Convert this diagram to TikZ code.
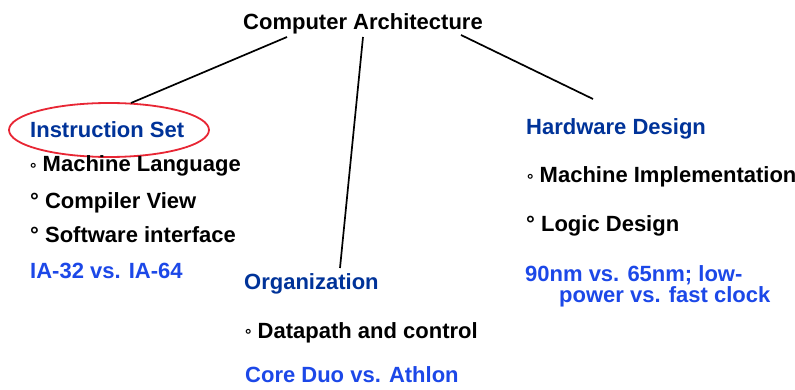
\documentclass[tikz,border=0pt]{standalone}
\usepackage{fontspec}
\setmainfont{Liberation Sans}
\usetikzlibrary{positioning}
\definecolor{ArchNavy}{RGB}{0,51,153}
\definecolor{ArchBlue}{RGB}{28,72,232}
\definecolor{ArchRed}{RGB}{232,38,52}

\tikzset{
  topic/.style={anchor=base west, inner sep=0pt, font=\fontsize{22}{21}\selectfont\bfseries},
  heading/.style={topic, text=ArchNavy},
  example/.style={topic, text=ArchBlue, align=left},
  item/.style={topic, text=black},
  branch/.style={draw=black, line width=1.7pt},
  ring/.style={draw=ArchRed, line width=1.8pt},
}
% the smaller, lower circle used before some of the items
\newcommand{\lowdeg}{{\fontsize{16}{16}\selectfont\raisebox{-2.2pt}{°}}}

\begin{document}
\begin{tikzpicture}[x=1pt,y=-1pt]
  \path[use as bounding box] (0,0) rectangle (795,390);
  \fill[white] (0,0) rectangle (795,390);

  \node[item] (title) at (243,30) {Computer Architecture};

  % left branch
  \node[heading] (inst) at (30,138) {Instruction Set};
  \draw[ring] (109,130) ellipse [x radius=100, y radius=27];
  \node[item] (lang) at (30,172) {\lowdeg\ Machine Language};
  \node[item] (comp) at (30,208) {° Compiler View};
  \node[item] (soft) at (30,243) {° Software interface};
  \node[example] (ia) at (30,278) {IA-32 vs. IA-64};

  % middle branch
  \node[heading] (org) at (244,289) {Organization};
  \node[item] (path) at (245,338) {\lowdeg\ Datapath and control};
  \node[example] (core) at (245,382) {Core Duo vs. Athlon};

  % right branch
  \node[heading] (hw) at (526,135) {Hardware Design};
  \node[item] (impl) at (527,183) {\lowdeg\ Machine Implementation};
  \node[item] (logic) at (526,232) {° Logic Design};
  % base sits on the last line here
  \node[example] (tech) at (525,302) {90nm vs. 65nm; low-\\\hspace*{34pt}power vs. fast clock};

  % connectors
  \coordinate (t1) at (287,37);
  \coordinate (t2) at (363,37);
  \coordinate (t3) at (461,35);
  \coordinate (e1) at (131,103);
  \coordinate (e2) at (340,268);
  \coordinate (e3) at (593,99);
  \draw[branch] (t1) -- (e1);
  \draw[branch] (t2) -- (e2);
  \draw[branch] (t3) -- (e3);
\end{tikzpicture}
\end{document}
